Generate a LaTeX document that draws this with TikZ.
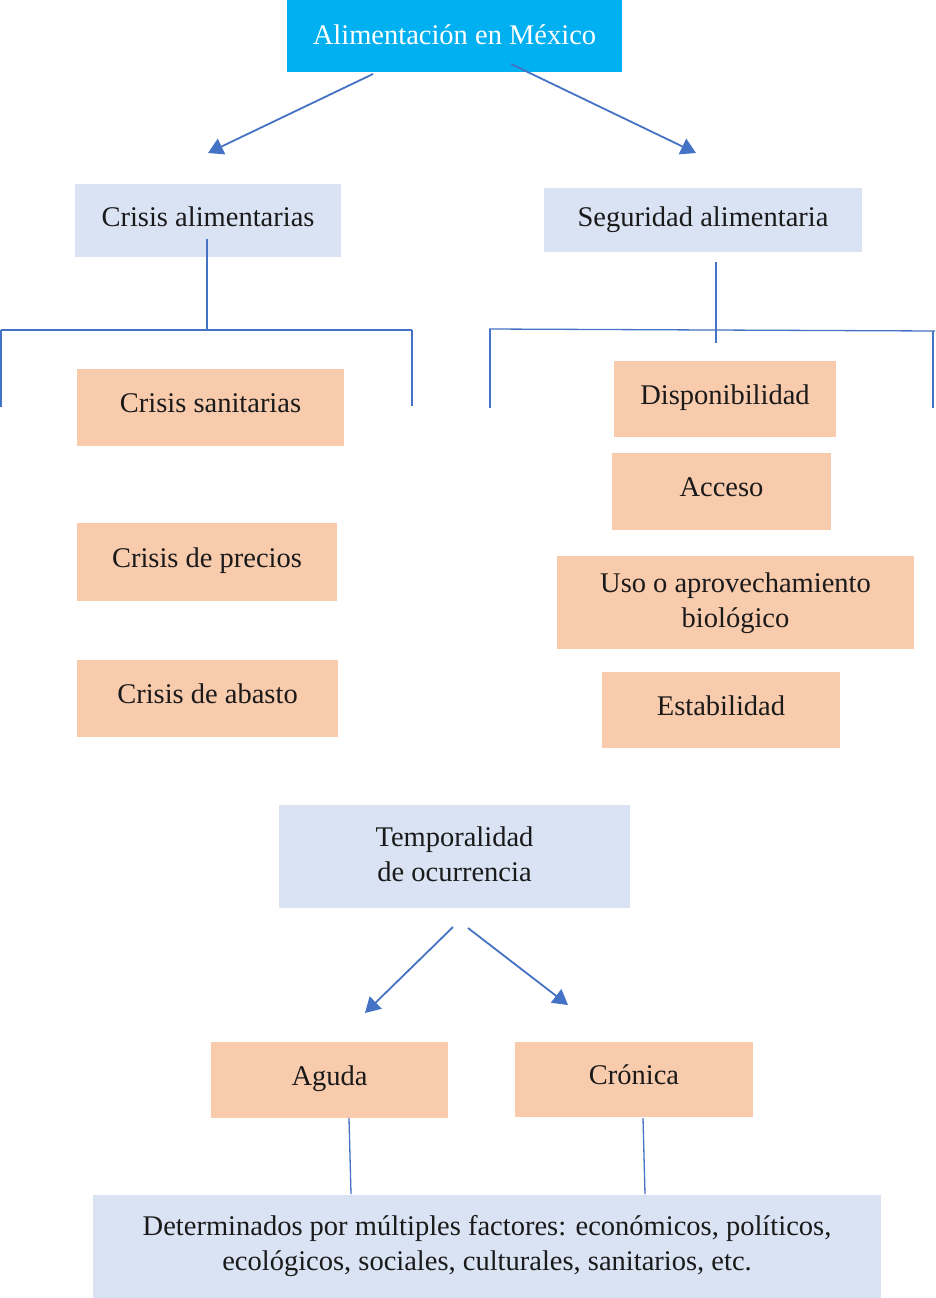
\documentclass[tikz,border=0pt]{standalone}
\usepackage{fontspec}
\setmainfont{Liberation Serif}
\newfontfamily\serfont{Liberation Serif}
\usetikzlibrary{arrows.meta}
\definecolor{cyanbox}{HTML}{00B0F0}
\definecolor{bluebox}{HTML}{DAE3F3}
\definecolor{peach}{HTML}{F8CBAD}
\definecolor{arrowblue}{HTML}{4472C4}
\definecolor{txt}{HTML}{1A1A1A}
\newcommand{\twol}[3]{\raisebox{#1}{\begin{tabular}{@{}c@{}}#2\\#3\end{tabular}}}
\begin{document}
\begin{tikzpicture}[x=1pt,y=-1pt,
  box/.style={inner sep=0pt, align=center, text=txt, font=\serfont\fontsize{28.5}{35}\selectfont},
  bluefill/.style={box, fill=bluebox},
  peachfill/.style={box, fill=peach},
  arr/.style={draw=arrowblue, line width=1.8pt, -{Triangle[width=17pt,length=15pt]}, fill=arrowblue},
  ln/.style={draw=arrowblue, line width=1.3pt}]
\useasboundingbox (0,0) rectangle (935,1298);
% boxes
\node[box, fill=cyanbox, text=white, minimum width=335pt, minimum height=72pt] (top) at (454.5,36) {\raisebox{3pt}{Alimentación en México}};
\node[bluefill, minimum width=266pt, minimum height=73pt] (crisis) at (208,220.5) {\raisebox{8pt}{Crisis alimentarias}};
\node[bluefill, minimum width=318pt, minimum height=64pt] (seg) at (703,220) {\raisebox{-2pt}{Seguridad alimentaria}};
\node[peachfill, minimum width=267pt, minimum height=77pt] (cs) at (210.5,407.5) {\raisebox{9pt}{Crisis sanitarias}};
\node[peachfill, minimum width=260pt, minimum height=78pt] (cp) at (207,562) {\raisebox{9pt}{Crisis de precios}};
\node[peachfill, minimum width=261pt, minimum height=77pt] (cab) at (207.5,698.5) {\raisebox{9pt}{Crisis de abasto}};
\node[peachfill, minimum width=222pt, minimum height=76pt] (disp) at (725,399) {\raisebox{9pt}{Disponibilidad}};
\node[peachfill, minimum width=219pt, minimum height=77pt] (acc) at (721.5,491.5) {\raisebox{9pt}{Acceso}};
\node[peachfill, minimum width=357pt, minimum height=93pt] (uso) at (735.5,602.5) {\twol{-4pt}{Uso o aprovechamiento}{biológico}};
\node[peachfill, minimum width=238pt, minimum height=76pt] (est) at (721,710) {\raisebox{9pt}{Estabilidad}};
\node[bluefill, minimum width=351pt, minimum height=103pt] (temp) at (454.5,856.5) {\twol{3pt}{Temporalidad}{de ocurrencia}};
\node[peachfill, minimum width=237pt, minimum height=76pt] (aguda) at (329.5,1080) {\raisebox{9pt}{Aguda}};
\node[peachfill, minimum width=238pt, minimum height=75pt] (cron) at (634,1079.5) {\raisebox{9pt}{Crónica}};
\node[bluefill, minimum width=788pt, minimum height=103pt] (det) at (487,1246.5) {Determinados por múltiples factores: económicos, políticos,\\ecológicos, sociales, culturales, sanitarios, etc.};
% coordinates
\coordinate (a1s) at (373,74);  \coordinate (a1e) at (208,153);
\coordinate (a2s) at (511,64);  \coordinate (a2e) at (696,153);
\coordinate (a3s) at (453,927); \coordinate (a3e) at (365,1013);
\coordinate (a4s) at (468,928); \coordinate (a4e) at (568,1005);
\coordinate (lt) at (207,239); \coordinate (lj) at (207,330);
\coordinate (ll) at (1,330); \coordinate (lr) at (412,330);
\coordinate (llb) at (1,407); \coordinate (lrb) at (412,406);
\coordinate (rt) at (716,262); \coordinate (rb) at (716,343);
\coordinate (rl) at (489,329); \coordinate (rr) at (935,331);
\coordinate (rlx) at (490,329); \coordinate (rlb) at (490,408);
\coordinate (rrx) at (933,331); \coordinate (rrb) at (933,408);
\coordinate (ag) at (349,1118); \coordinate (agb) at (351,1194);
\coordinate (cr) at (643,1118); \coordinate (crb) at (645,1194);
% arrows
\draw[arr] (a1s) -- (a1e);
\draw[arr] (a2s) -- (a2e);
\draw[arr] (a3s) -- (a3e);
\draw[arr] (a4s) -- (a4e);
% tree lines
\draw[ln] (lt) -- (lj);
\draw[ln] (ll) -- (lr);
\draw[ln] (ll) -- (llb);
\draw[ln] (lr) -- (lrb);
\draw[ln] (rt) -- (rb);
\draw[ln] (rl) -- (rr);
\draw[ln] (rlx) -- (rlb);
\draw[ln] (rrx) -- (rrb);
\draw[ln] (ag) -- (agb);
\draw[ln] (cr) -- (crb);
\end{tikzpicture}
\end{document}
